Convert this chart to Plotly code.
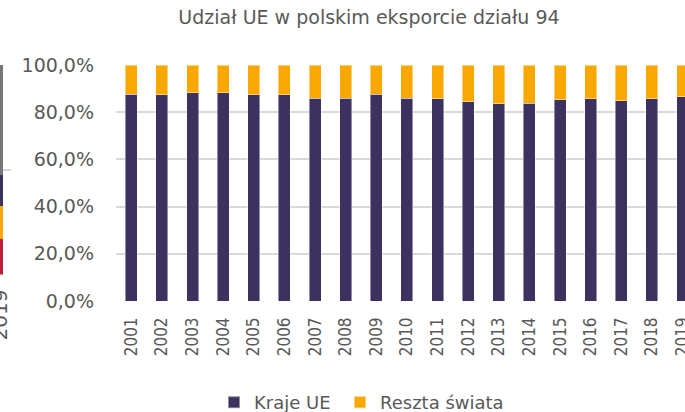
import plotly.graph_objects as go

# ---- data ----
years = [str(y) for y in range(2001, 2020)]
eu_share = [87.7, 87.3, 88.2, 88.2, 87.3, 87.3, 86.0, 86.0, 87.7, 86.0,
            85.6, 84.4, 83.5, 83.9, 85.2, 85.6, 84.8, 85.6, 86.5]
rest_share = [round(100 - v, 1) for v in eu_share]
y_tick_vals = [0, 20, 40, 60, 80, 100]
y_tick_labels = ["0,0%", "20,0%", "40,0%", "60,0%", "80,0%", "100,0%"]

# neighbouring chart (only a sliver visible at the left edge)
nb_category = ["2019"]
nb_seg_red = [17.0]
nb_seg_orange = [15.6]
nb_seg_purple = [14.7]
nb_seg_gray = [52.7]

title_text = "Udział UE w polskim eksporcie działu 94"
series_names = ["Kraje UE", "Reszta świata"]

PURPLE = "#3D3160"
ORANGE = "#F8A800"
GRID = "#D9D9D9"
TXT = "#595959"
FONT = "DejaVu Sans"
NARROW = "Liberation Sans Narrow, DejaVu Sans Condensed, Roboto Condensed, sans-serif"

fig = go.Figure()

fig.add_trace(go.Bar(x=years, y=eu_share, name=series_names[0], legend="legend",
                     marker=dict(color=PURPLE, line=dict(color="rgba(255,255,255,0.45)", width=1)),
                     xaxis="x", yaxis="y"))
fig.add_trace(go.Bar(x=years, y=rest_share, name=series_names[1], legend="legend2",
                     marker=dict(color=ORANGE, line=dict(color="rgba(255,255,255,0.45)", width=1)),
                     xaxis="x", yaxis="y"))

for vals, col in [(nb_seg_red, "#BE1E3C"), (nb_seg_orange, ORANGE),
                  (nb_seg_purple, PURPLE), (nb_seg_gray, "#76777A")]:
    fig.add_trace(go.Bar(x=nb_category, y=vals, marker=dict(color=col, line=dict(width=0)),
                         showlegend=False, xaxis="x2", yaxis="y2"))

W, H = 685, 412
legend_common = dict(orientation="h", xanchor="left", yref="container",
                     y=1 - 402.5 / H, yanchor="middle", xref="container",
                     font=dict(family=FONT, size=18, color=TXT), itemsizing="constant")

fig.update_layout(
    width=W, height=H,
    margin=dict(l=0, r=0, t=65, b=110.5, autoexpand=False),
    paper_bgcolor="white", plot_bgcolor="rgba(0,0,0,0)",
    barmode="stack", bargap=0.61,
    font=dict(family=FONT, color=TXT),
    title=dict(text=title_text, font=dict(family=FONT, size=19, color=TXT),
               xref="container", x=369 / W, xanchor="center",
               yref="container", y=1 - 17 / H, yanchor="middle"),
    showlegend=True,
    legend=dict(x=214 / W, **legend_common),
    legend2=dict(x=340 / W, **legend_common),
    xaxis=dict(domain=[116 / W, 1], type="category", range=[-0.5, 18.08],
               tickangle=-90, tickfont=dict(family=NARROW, size=17, color=TXT),
               showgrid=False, zeroline=False, showline=False, ticks="",
               ticklabelstandoff=12, automargin=False),
    yaxis=dict(domain=[0, 1], range=[0, 100], tickvals=y_tick_vals, ticktext=y_tick_labels,
               tickfont=dict(family=FONT, size=19, color=TXT),
               showgrid=True, gridcolor=GRID, gridwidth=1.5, zeroline=False,
               showline=False, ticks="", ticklabelstandoff=21, automargin=False),
    xaxis2=dict(domain=[0, 11 / W], type="category", range=[0.12, 0.395],
                showticklabels=False, showgrid=False, zeroline=False, ticks="",
                anchor="y2", automargin=False),
    yaxis2=dict(domain=[(301.5 - 275) / 236.5, 1], range=[0, 100], dtick=50,
                showticklabels=False, showgrid=True, gridcolor=GRID, gridwidth=1.5,
                zeroline=False, ticks="", anchor="x2", automargin=False),
    annotations=[dict(text=nb_category[0], xref="paper", x=0, xanchor="center",
                      yref="paper", y=(301.5 - 316) / 236.5, yanchor="middle",
                      textangle=-90, showarrow=False,
                      font=dict(family=FONT, size=20, color=TXT))],
)

fig.write_html("out.html", config={"displayModeBar": False},
               post_script="document.body.style.margin='0';document.body.style.overflow='hidden';")
